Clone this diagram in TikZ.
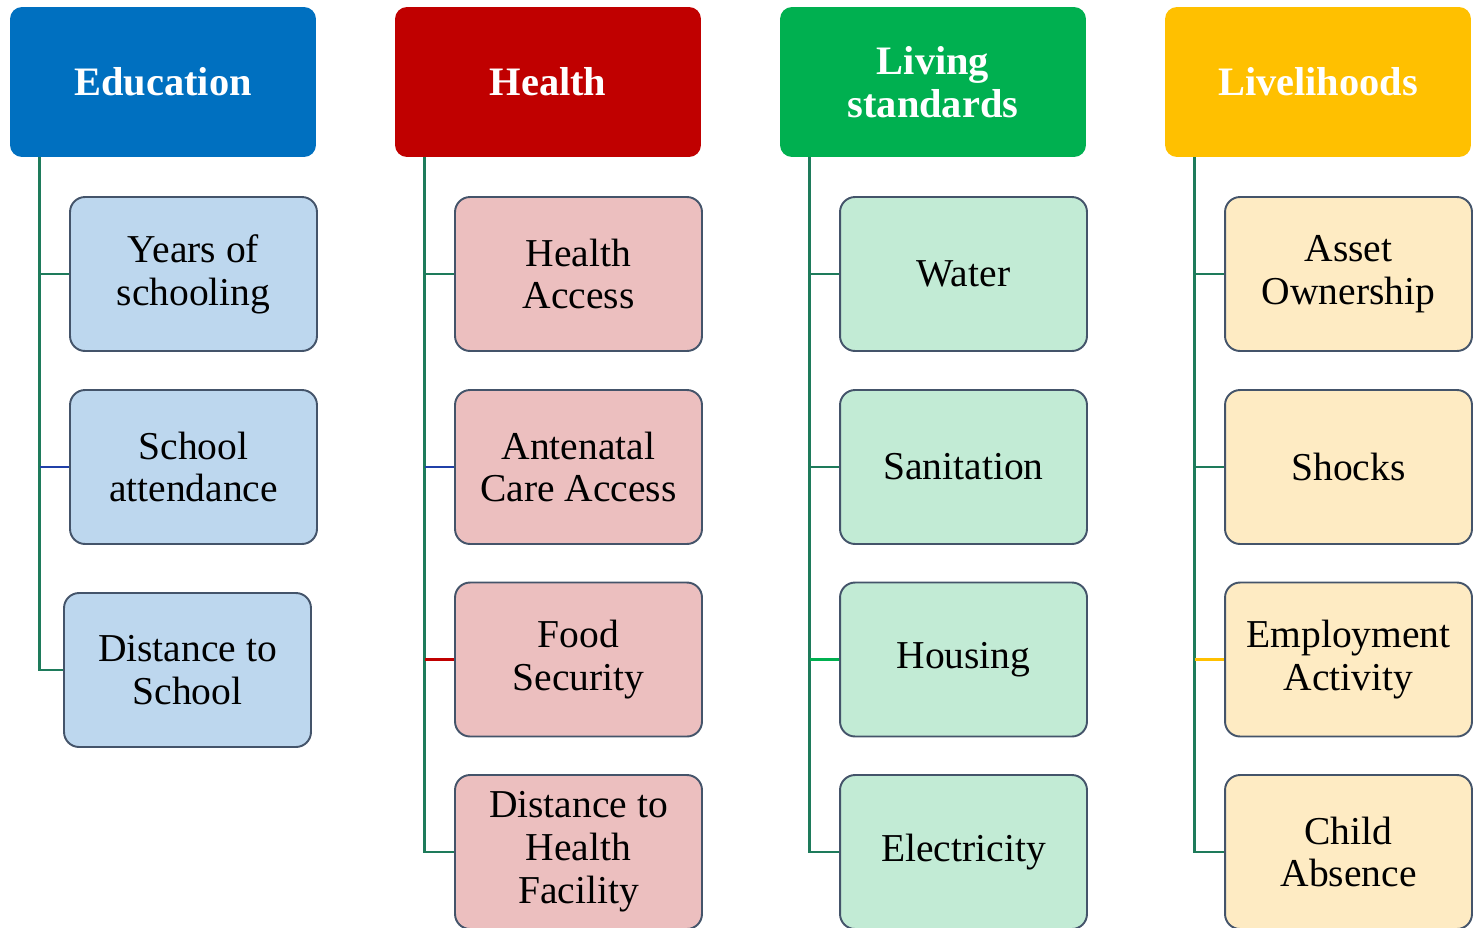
\documentclass[tikz,border=0pt]{standalone}
\usepackage{fontspec}
\setmainfont{Liberation Serif}

\definecolor{edublue}{HTML}{0070C0}
\definecolor{healthred}{HTML}{C00000}
\definecolor{livgreen}{HTML}{00B050}
\definecolor{lhyellow}{HTML}{FFC000}
\definecolor{edufill}{HTML}{BDD7EE}
\definecolor{healthfill}{HTML}{ECBFBF}
\definecolor{livfill}{HTML}{C2EBD5}
\definecolor{lhfill}{HTML}{FEEBC3}
\definecolor{boxline}{HTML}{44546A}
\definecolor{trunkgreen}{HTML}{1E7B5B}
\definecolor{navy}{HTML}{2040A8}

\begin{document}
\begin{tikzpicture}[x=0.02cm, y=-0.02cm,
    head/.style={rounded corners=0.24cm, minimum width=6.12cm, minimum height=3cm,
        text=white, align=center, font=\fontsize{23}{24.4}\selectfont\bfseries},
    item/.style={draw=boxline, line width=1.1pt, rounded corners=0.3cm,
        minimum width=4.94cm, minimum height=3.08cm, align=center,
        font=\fontsize{22.5}{24.4}\selectfont},
    trunk/.style={draw=trunkgreen, line width=1.4pt},
    twig/.style={line width=1.4pt}]
    \useasboundingbox (0,0) rectangle (1473,927);

    % column headers
    \node[head, fill=edublue] (edu) at (163,82) {Education};
    \node[head, fill=healthred] (hea) at (548,82) {Health};
    \node[head, fill=livgreen] (liv) at (933,82) {Living\\standards};
    \node[head, fill=lhyellow] (lh) at (1318,82) {Livelihoods};

    % education
    \node[item, fill=edufill] (edu1) at (193.5,274) {Years of\\schooling};
    \node[item, fill=edufill] (edu2) at (193.5,467) {School\\attendance};
    \node[item, fill=edufill] (edu3) at (187.5,670) {Distance to\\School};

    % health
    \node[item, fill=healthfill] (hea1) at (578.5,274) {Health\\Access};
    \node[item, fill=healthfill] (hea2) at (578.5,467) {Antenatal\\Care Access};
    \node[item, fill=healthfill] (hea3) at (578.5,659.5) {Food\\Security};
    \node[item, fill=healthfill] (hea4) at (578.5,852) {Distance to\\Health\\Facility};

    % living standards
    \node[item, fill=livfill] (liv1) at (963.5,274) {Water};
    \node[item, fill=livfill] (liv2) at (963.5,467) {Sanitation};
    \node[item, fill=livfill] (liv3) at (963.5,659.5) {Housing};
    \node[item, fill=livfill] (liv4) at (963.5,852) {Electricity};

    % livelihoods
    \node[item, fill=lhfill] (lh1) at (1348.5,274) {Asset\\Ownership};
    \node[item, fill=lhfill] (lh2) at (1348.5,467) {Shocks};
    \node[item, fill=lhfill] (lh3) at (1348.5,659.5) {Employment\\Activity};
    \node[item, fill=lhfill] (lh4) at (1348.5,852) {Child\\Absence};

    % trunks hanging under each header
    \coordinate (eduT) at ([xshift=0.6cm]edu.south west);
    \coordinate (heaT) at ([xshift=0.6cm]hea.south west);
    \coordinate (livT) at ([xshift=0.6cm]liv.south west);
    \coordinate (lhT) at ([xshift=0.6cm]lh.south west);

    \draw[trunk] (eduT) |- (edu3.west);
    \draw[trunk] (heaT) |- (hea4.west);
    \draw[trunk] (livT) |- (liv4.west);
    \draw[trunk] (lhT) |- (lh4.west);

    % branches
    \draw[twig, trunkgreen] (eduT |- edu1.west) -- (edu1.west);
    \draw[twig, navy] (eduT |- edu2.west) -- (edu2.west);
    \draw[twig, trunkgreen] (heaT |- hea1.west) -- (hea1.west);
    \draw[twig, navy] (heaT |- hea2.west) -- (hea2.west);
    \draw[twig, healthred] (heaT |- hea3.west) -- (hea3.west);
    \draw[twig, trunkgreen] (livT |- liv1.west) -- (liv1.west);
    \draw[twig, trunkgreen] (livT |- liv2.west) -- (liv2.west);
    \draw[twig, livgreen] (livT |- liv3.west) -- (liv3.west);
    \draw[twig, trunkgreen] (lhT |- lh1.west) -- (lh1.west);
    \draw[twig, trunkgreen] (lhT |- lh2.west) -- (lh2.west);
    \draw[twig, lhyellow] (lhT |- lh3.west) -- (lh3.west);
\end{tikzpicture}
\end{document}
